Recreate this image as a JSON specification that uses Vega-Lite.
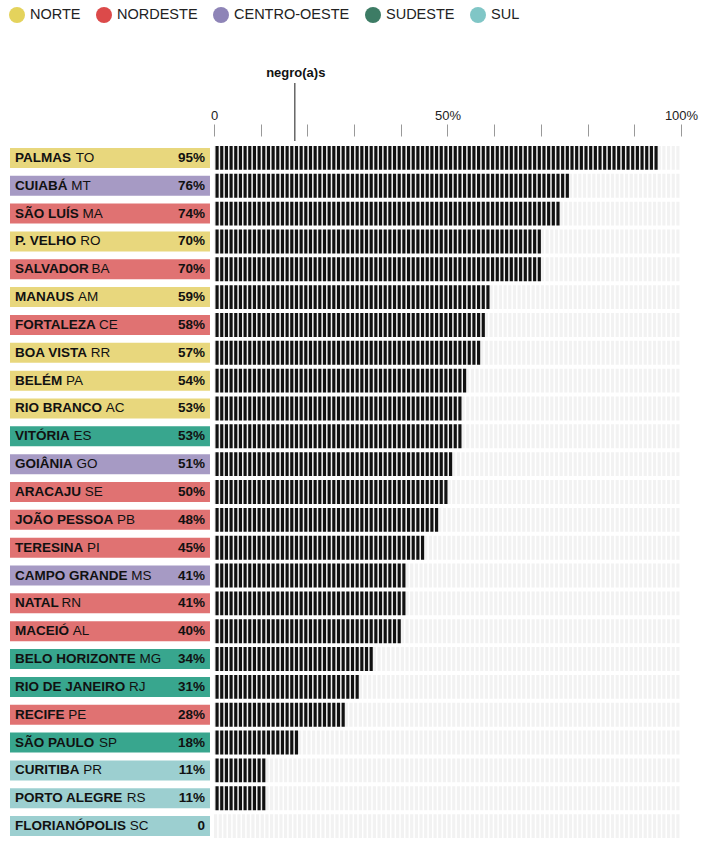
{
  "$schema": "https://vega.github.io/schema/vega-lite/v6.json",
  "autosize": {"type": "pad"},
  "padding": {"left": 9, "top": 7, "right": 18, "bottom": 11},
  "background": "white",
  "config": {"view": {"stroke": null}, "font": "Liberation Sans"},
  "spacing": 0,
  "bounds": "flush",
  "data": {
    "values": [
      {"city": "PALMAS", "uf": "TO", "region": "NORTE", "v": 95},
      {"city": "CUIABÁ", "uf": "MT", "region": "CENTRO-OESTE", "v": 76},
      {"city": "SÃO LUÍS", "uf": "MA", "region": "NORDESTE", "v": 74},
      {"city": "P. VELHO", "uf": "RO", "region": "NORTE", "v": 70},
      {"city": "SALVADOR", "uf": "BA", "region": "NORDESTE", "v": 70},
      {"city": "MANAUS", "uf": "AM", "region": "NORTE", "v": 59},
      {"city": "FORTALEZA", "uf": "CE", "region": "NORDESTE", "v": 58},
      {"city": "BOA VISTA", "uf": "RR", "region": "NORTE", "v": 57},
      {"city": "BELÉM", "uf": "PA", "region": "NORTE", "v": 54},
      {"city": "RIO BRANCO", "uf": "AC", "region": "NORTE", "v": 53},
      {"city": "VITÓRIA", "uf": "ES", "region": "SUDESTE", "v": 53},
      {"city": "GOIÂNIA", "uf": "GO", "region": "CENTRO-OESTE", "v": 51},
      {"city": "ARACAJU", "uf": "SE", "region": "NORDESTE", "v": 50},
      {"city": "JOÃO PESSOA", "uf": "PB", "region": "NORDESTE", "v": 48},
      {"city": "TERESINA", "uf": "PI", "region": "NORDESTE", "v": 45},
      {"city": "CAMPO GRANDE", "uf": "MS", "region": "CENTRO-OESTE", "v": 41},
      {"city": "NATAL", "uf": "RN", "region": "NORDESTE", "v": 41},
      {"city": "MACEIÓ", "uf": "AL", "region": "NORDESTE", "v": 40},
      {"city": "BELO HORIZONTE", "uf": "MG", "region": "SUDESTE", "v": 34},
      {"city": "RIO DE JANEIRO", "uf": "RJ", "region": "SUDESTE", "v": 31},
      {"city": "RECIFE", "uf": "PE", "region": "NORDESTE", "v": 28},
      {"city": "SÃO PAULO", "uf": "SP", "region": "SUDESTE", "v": 18},
      {"city": "CURITIBA", "uf": "PR", "region": "SUL", "v": 11},
      {"city": "PORTO ALEGRE", "uf": "RS", "region": "SUL", "v": 11},
      {"city": "FLORIANÓPOLIS", "uf": "SC", "region": "SUL", "v": 0}
    ]
  },
  "vconcat": [
    {
      "width": 671,
      "height": 72,
      "data": {"values": [{"label": "negro(a)s", "x": 17.3}]},
      "layer": [
        {
          "mark": {"type": "rule", "color": "#666666", "strokeWidth": 1.5},
          "encoding": {
            "x": {"field": "x", "type": "quantitative", "scale": {"domain": [-43.68, 100], "nice": false, "zero": false}, "axis": null},
            "y": {"datum": 3, "type": "quantitative", "scale": {"domain": [0, 72], "nice": false, "zero": false}, "axis": null},
            "y2": {"datum": 61}
          }
        },
        {
          "mark": {"type": "text", "align": "center", "baseline": "middle", "font": "Liberation Sans", "fontSize": 13, "fontWeight": "bold", "color": "#111111", "dx": 1},
          "encoding": {
            "x": {"field": "x", "type": "quantitative", "scale": {"domain": [-43.68, 100], "nice": false, "zero": false}, "axis": null},
            "y": {"datum": 71, "type": "quantitative", "scale": {"domain": [0, 72], "nice": false, "zero": false}, "axis": null},
            "text": {"field": "label"}
          }
        }
      ]
    },
    {
      "width": 671,
      "height": 696,
      "transform": [
        {"calculate": "datum.v === 0 ? '0' : datum.v + '%'", "as": "pct"},
        {"calculate": "length(replace(datum.city, regexp('(?=AT|AV|AY|TA|VA|YA|LT|LV|LY|P[.])','g'), '#')) - length(datum.city)", "as": "kern"},
        {"calculate": "-43.68 + (5 + 3.75 - 1.55*datum.kern + 13.5/1000*(722*length(datum.city) - 444*length(replace(datum.city, regexp('[^IÍ .]','g'), '')) - 166*length(replace(datum.city, regexp('[^J]','g'), '')) - 111*length(replace(datum.city, regexp('[^FLTZ]','g'), '')) - 55*length(replace(datum.city, regexp('[^EPSVXYÉ]','g'), '')) + 56*length(replace(datum.city, regexp('[^GOQÓÔÕ]','g'), '')) + 111*length(replace(datum.city, regexp('[^M]','g'), ''))))/4.67", "as": "ufx"}
      ],
      "encoding": {
        "y": {"field": "city", "type": "nominal", "sort": null, "axis": null, "scale": {"paddingInner": 0.14, "paddingOuter": 0.07}}
      },
      "layer": [
        {
          "mark": {"type": "rule", "color": "#f2f2f2", "strokeWidth": 23.9, "strokeDash": [3.17, 1.5], "strokeCap": "butt"},
          "encoding": {
            "x": {
              "datum": 0, "type": "quantitative",
              "scale": {"domain": [-43.68, 100], "nice": false, "zero": false},
              "axis": {
                "orient": "top", "offset": 8, "title": null, "domain": false, "grid": false,
                "values": [0, 10, 20, 30, 40, 50, 60, 70, 80, 90, 100],
                "tickSize": 12, "tickColor": "#999999", "tickWidth": 1,
                "labelExpr": "datum.value === 0 ? '0' : datum.value === 50 ? '50%' : datum.value === 100 ? '100%' : ''",
                "labelFont": "Liberation Sans", "labelFontSize": 13, "labelColor": "#222222",
                "labelPadding": 2, "labelOverlap": false, "labelBound": false, "labelFlush": false
              }
            },
            "x2": {"datum": 100}
          }
        },
        {
          "mark": {"type": "rule", "color": "#111111", "strokeWidth": 23.9, "strokeDash": [3.17, 1.5], "strokeCap": "butt"},
          "encoding": {
            "x": {"field": "v", "type": "quantitative", "scale": {"domain": [-43.68, 100], "nice": false, "zero": false}},
            "x2": {"datum": 0}
          }
        },
        {
          "mark": {"type": "point", "filled": true, "size": 200, "opacity": 1},
          "encoding": {
            "x": {"datum": -20, "type": "quantitative", "scale": {"domain": [-43.68, 100], "nice": false, "zero": false}},
            "color": {"field": "region", "type": "nominal",
              "scale": {"domain": ["NORTE", "NORDESTE", "CENTRO-OESTE", "SUDESTE", "SUL"], "range": ["#e4d35c", "#dc4a4a", "#8e84b7", "#3d7c65", "#80c6c6"]},
              "legend": {
                "title": null, "orient": "none", "legendX": -1, "legendY": -65, "direction": "horizontal", "padding": 0,
                "symbolType": "circle", "symbolSize": 256, "symbolStrokeWidth": 0, "symbolOpacity": 1,
                "labelFont": "Liberation Sans", "labelFontSize": 14.5, "labelColor": "#222222", "labelOffset": 5,
                "columnPadding": 15, "labelLimit": 200
              }
            }
          }
        },
        {
          "mark": {"type": "bar", "height": 20},
          "encoding": {
            "x": {"datum": -43.68, "type": "quantitative", "scale": {"domain": [-43.68, 100], "nice": false, "zero": false}},
            "x2": {"datum": -0.857},
            "fill": {"field": "region", "type": "nominal", "legend": null,
              "scale": {"domain": ["NORTE", "NORDESTE", "CENTRO-OESTE", "SUDESTE", "SUL"], "range": ["#e8d77d", "#e07272", "#a69ac4", "#38a68e", "#9ccfd0"]}}
          }
        },
        {
          "mark": {"type": "text", "align": "left", "baseline": "middle", "font": "Liberation Sans", "fontSize": 13.5, "fontWeight": "bold", "color": "#111111"},
          "encoding": {
            "x": {"datum": -42.61, "type": "quantitative", "scale": {"domain": [-43.68, 100], "nice": false, "zero": false}},
            "text": {"field": "city"}
          }
        },
        {
          "mark": {"type": "text", "align": "left", "baseline": "middle", "font": "Liberation Sans", "fontSize": 13.5, "fontWeight": "normal", "color": "#111111"},
          "encoding": {
            "x": {"field": "ufx", "type": "quantitative", "scale": {"domain": [-43.68, 100], "nice": false, "zero": false}},
            "text": {"field": "uf"}
          }
        },
        {
          "mark": {"type": "text", "align": "right", "baseline": "middle", "font": "Liberation Sans", "fontSize": 13.5, "fontWeight": "bold", "color": "#111111"},
          "encoding": {
            "x": {"datum": -1.93, "type": "quantitative", "scale": {"domain": [-43.68, 100], "nice": false, "zero": false}},
            "text": {"field": "pct"}
          }
        }
      ]
    }
  ]
}
